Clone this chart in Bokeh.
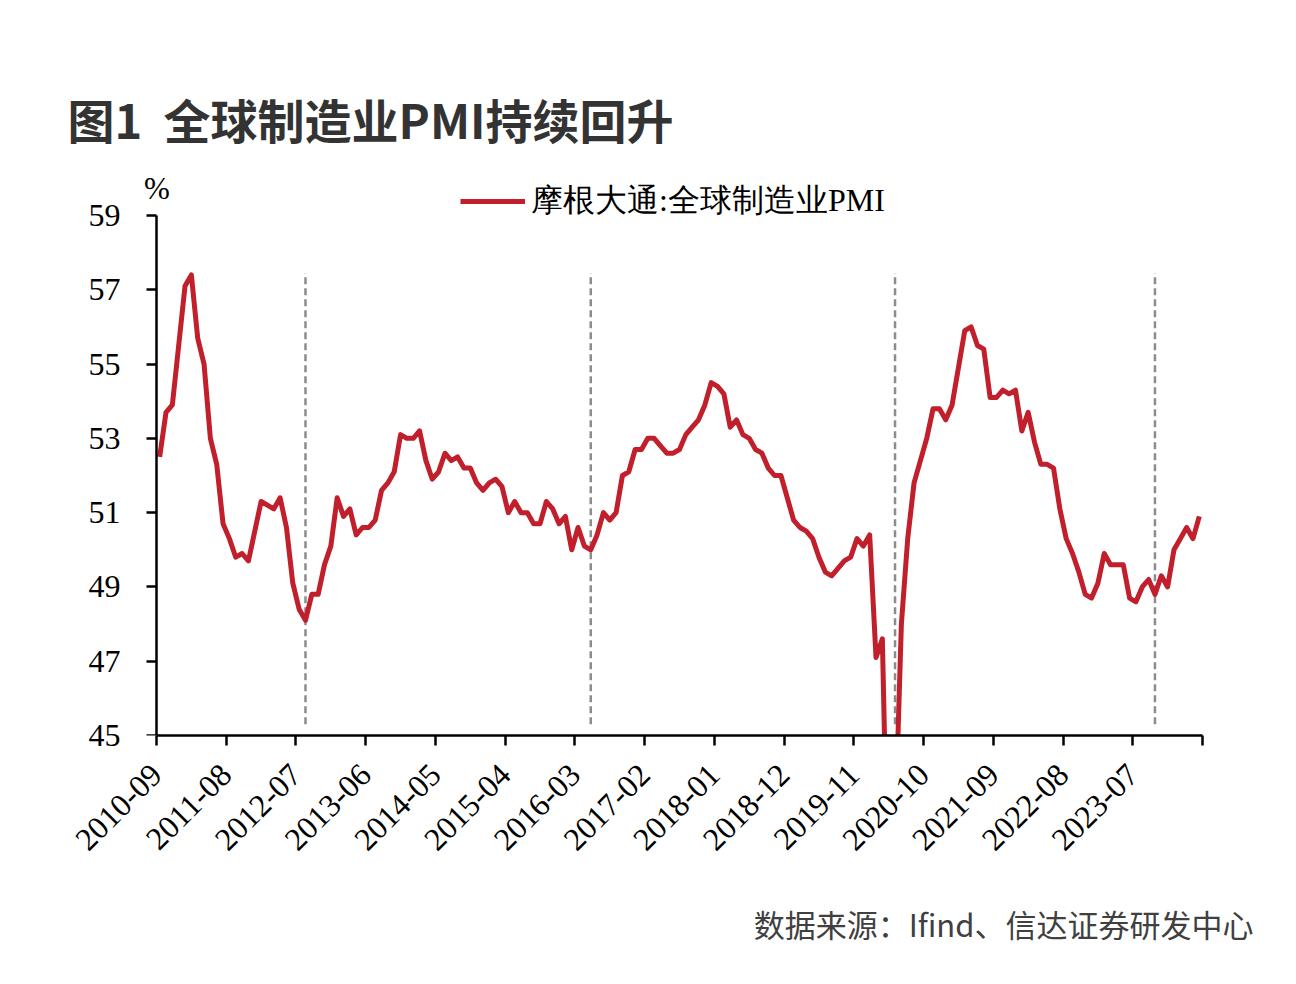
import math
import pandas as pd
from bokeh.plotting import figure
from bokeh.models import (Range1d, FixedTicker, Label, ColumnDataSource, Title,
                          LinearAxis)
from bokeh.embed import file_html
from bokeh.resources import INLINE

# ---------------- data ----------------
start_month = "2010-09"
pmi = [
    52.5, 53.7, 53.9, 55.5, 57.1, 57.4, 55.7, 55.0, 53.0, 52.3,
    50.7, 50.3, 49.8, 49.9, 49.7, 50.5, 51.3, 51.2, 51.1, 51.4,
    50.6, 49.1, 48.4, 48.1, 48.8, 48.8, 49.6, 50.1, 51.4, 50.9,
    51.1, 50.4, 50.6, 50.6, 50.8, 51.6, 51.8, 52.1, 53.1, 53.0,
    53.0, 53.2, 52.4, 51.9, 52.1, 52.6, 52.4, 52.5, 52.2, 52.2,
    51.8, 51.6, 51.8, 51.9, 51.7, 51.0, 51.3, 51.0, 51.0, 50.7,
    50.7, 51.3, 51.1, 50.7, 50.9, 50.0, 50.6, 50.1, 50.0, 50.4,
    51.0, 50.8, 51.0, 52.0, 52.1, 52.7, 52.7, 53.0, 53.0, 52.8,
    52.6, 52.6, 52.7, 53.1, 53.3, 53.5, 53.9, 54.5, 54.4, 54.2,
    53.3, 53.5, 53.1, 53.0, 52.7, 52.6, 52.2, 52.0, 52.0, 51.4,
    50.8, 50.6, 50.5, 50.3, 49.8, 49.4, 49.3, 49.5, 49.7, 49.8,
    50.3, 50.1, 50.4, 47.1, 47.6, 39.8, 42.4, 48.0, 50.3, 51.8,
    52.4, 53.0, 53.8, 53.8, 53.5, 53.9, 54.9, 55.9, 56.0, 55.5,
    55.4, 54.1, 54.1, 54.3, 54.2, 54.3, 53.2, 53.7, 52.9, 52.3,
    52.3, 52.2, 51.1, 50.3, 49.9, 49.4, 48.8, 48.7, 49.1, 49.9,
    49.6, 49.6, 49.6, 48.7, 48.6, 49.0, 49.2, 48.8, 49.3, 49.0,
    50.0, 50.3, 50.6, 50.3, 50.9,
]
months = [d.strftime("%Y-%m") for d in pd.date_range(start_month, periods=len(pmi), freq="MS")]
dashed_months = ["2012-08", "2016-05", "2020-05", "2023-10"]
x_tick_labels = ["2010-09", "2011-08", "2012-07", "2013-06", "2014-05", "2015-04",
                 "2016-03", "2017-02", "2018-01", "2018-12", "2019-11", "2020-10",
                 "2021-09", "2022-08", "2023-07"]
y_ticks = [45, 47, 49, 51, 53, 55, 57, 59]
y_min, y_max = 45, 59
series_name = "摩根大通:全球制造业PMI"
title_text = "图1\u00a0\u00a0全球制造业PMI持续回升"
source_text = "数据来源：Ifind、信达证券研发中心"
unit_text = "%"

# ---------------- layout geometry (pixels) ----------------
W, H = 1296, 984
AX_L, AX_R = 156, 1202       # axis line extent
AX_T, AX_B = 215, 735        # y axis extent (59 .. 45)
FR_L, FR_T = 140, 160        # frame extended to hold legend and unit label

n = len(pmi)
x0, x1 = -0.5, n - 0.5
ppx = (AX_R - AX_L) / (x1 - x0)
ppy = (AX_B - AX_T) / (y_max - y_min)

p = figure(width=W, height=H, output_backend="svg", toolbar_location=None,
           x_range=Range1d(x0 - (AX_L - FR_L) / ppx, x1),
           y_range=Range1d(y_min, y_max + (AX_T - FR_T) / ppy),
           min_border_left=FR_L, min_border_right=W - AX_R,
           min_border_top=FR_T, min_border_bottom=H - AX_B)
p.outline_line_color = None
p.xgrid.visible = False
p.ygrid.visible = False
p.background_fill_color = "white"
p.border_fill_color = "white"

RED = "#C01F2B"

# dashed verticals
dx = [months.index(m) for m in dashed_months]
p.segment(x0=dx, x1=dx, y0=[45.3] * len(dx), y1=[57.45] * len(dx),
          line_color="#8C8C8C", line_width=2.5, line_dash="7 4")

src = ColumnDataSource(dict(x=list(range(n)), y=pmi, month=months))
p.line("x", "y", source=src, line_color=RED, line_width=5, line_join="round",
       legend_label=series_name)

# x axis: labelled ticks every 11 months, plus an unlabelled closing tick
lab_ticks = [x0 + 11 * k for k in range(len(x_tick_labels))]
xa = p.xaxis[0]
xa.bounds = (x0, x1)
xa.ticker = FixedTicker(ticks=lab_ticks, minor_ticks=[x1])
xa.major_label_overrides = {t: lab for t, lab in zip(lab_ticks, x_tick_labels)}
xa.major_label_orientation = math.pi / 4
xa.major_label_text_font = "Liberation Serif"
xa.major_label_text_font_size = "32px"
xa.major_label_text_color = "black"
xa.major_label_standoff = 24
xa.major_tick_in = 0
xa.major_tick_out = 10
xa.major_tick_line_width = 2.5
xa.major_tick_line_color = "black"
xa.minor_tick_in = 0
xa.minor_tick_out = 10
xa.minor_tick_line_width = 2.5
xa.minor_tick_line_color = "black"
xa.axis_line_width = 2.5
xa.axis_line_color = "black"

# y axis labels (left panel, at frame edge; line and ticks hidden)
ya = p.yaxis[0]
ya.ticker = FixedTicker(ticks=y_ticks)
ya.major_label_text_font = "Liberation Serif"
ya.major_label_text_font_size = "32px"
ya.major_label_text_color = "black"
ya.major_label_standoff = FR_L - 120
ya.minor_tick_line_color = None
ya.major_tick_in = 0
ya.major_tick_out = 0
ya.axis_line_color = None
ya.major_tick_line_color = None

# y axis line and ticks at the first category boundary
ya2 = LinearAxis(fixed_location=x0, bounds=(y_min, y_max),
                 ticker=FixedTicker(ticks=y_ticks),
                 major_label_text_color=None, major_label_standoff=0,
                 major_label_text_font_size="8px",
                 major_tick_out=0, major_tick_in=10, major_tick_line_width=2.5,
                 major_tick_line_color="black", minor_tick_line_color=None,
                 axis_line_width=2.5, axis_line_color="black")
p.add_layout(ya2, "right")

# legend (inside the extended frame)
lg = p.legend[0]
lg.location = (460 - FR_L, AX_B - 223)
lg.padding = 0
lg.margin = 0
lg.spacing = 0
lg.glyph_width = 65
lg.glyph_height = 30
lg.label_height = 30
lg.label_standoff = 6
lg.border_line_alpha = 0
lg.background_fill_alpha = 0
lg.label_text_font = "Liberation Serif"
lg.label_text_font_size = "32px"
lg.label_text_color = "black"

# unit label
p.add_layout(Label(x=156.3 - FR_L, y=AX_B - 188, x_units="screen", y_units="screen",
                   text=unit_text, text_font="Liberation Serif", text_font_size="31px",
                   text_color="black", text_baseline="middle", text_align="center"))

# main title (above panel)
p.title = Title(text=title_text, align="left", offset=68 - FR_L - 1,
                vertical_align="bottom", standoff=16,
                text_font="Noto Sans CJK SC", text_font_style="bold",
                text_font_size="47px", text_color="#333333")

# source note (below panel)
p.add_layout(Title(text=source_text, align="right", offset=-(1253 - AX_R),
                   vertical_align="bottom", standoff=72,
                   text_font="Noto Sans CJK SC", text_font_style="normal",
                   text_font_size="31px", text_color="#404040"), "below")

open("out.html", "w").write(file_html(p, INLINE))
